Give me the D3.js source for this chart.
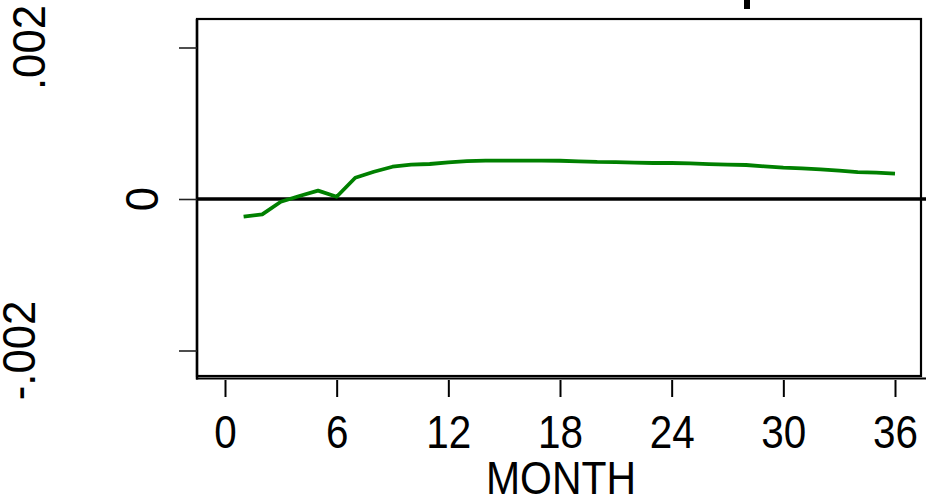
<!DOCTYPE html>
<html>
<head>
<meta charset="utf-8">
<script src="https://cdn.jsdelivr.net/npm/d3@7"></script>
<style>
  body { margin: 0; background: #fff; }
  svg { display: block; }
  text { font-family: "Liberation Sans", Arial, sans-serif; fill: #000; }
</style>
</head>
<body>
<svg id="chart" width="926" height="496"></svg>
<script>
// impulse response, months 1..36
var months = d3.range(1, 37);
var response = [
  -0.000234, -0.000202, -0.000036, 0.000040, 0.000110, 0.000030,
   0.000280,  0.000360,  0.000426, 0.000453, 0.000462, 0.000484,
   0.000500,  0.000506,  0.000506, 0.000506, 0.000506, 0.000505,
   0.000498,  0.000490,  0.000488, 0.000480, 0.000475, 0.000475,
   0.000470,  0.000460,  0.000453, 0.000449, 0.000430, 0.000413,
   0.000405,  0.000390,  0.000374, 0.000356, 0.000347, 0.000334
];
var xTicks = [0, 6, 12, 18, 24, 30, 36];
var yTicks = [0.002, 0, -0.002];
var yTickLabels = ['.002', '0', '-.002'];

var svg = d3.select('#chart');
var W = 926, H = 496;

// plot box  (note: "top" is taken by window.top)
var boxL = 197, boxT = 19, boxR = 921, boxB = 376;

var x = d3.scaleLinear().domain([0, 36]).range([225, 895]);
var y = d3.scaleLinear().domain([-0.002, 0.002]).range([350.5, 47.5]);

// cut-off title stroke at the top
svg.append('rect').attr('x', 744).attr('y', 0).attr('width', 6).attr('height', 9).attr('fill', '#000');

// box
svg.append('rect')
  .attr('x', boxL).attr('y', boxT)
  .attr('width', boxR - boxL).attr('height', boxB - boxT)
  .attr('fill', 'none').attr('stroke', '#000').attr('stroke-width', 2.2);

// y axis line
svg.append('line').attr('x1', boxL).attr('x2', boxL).attr('y1', boxT).attr('y2', 379.5)
  .attr('stroke', '#000').attr('stroke-width', 2.5);

// x axis line
svg.append('line').attr('x1', boxL - 1).attr('x2', W).attr('y1', 378.5).attr('y2', 378.5)
  .attr('stroke', '#000').attr('stroke-width', 2.2);

// x axis ticks + labels
var xAxis = d3.axisBottom(x).tickValues(xTicks).tickSize(17).tickFormat(d3.format('d'));
var gx = svg.append('g').attr('transform', 'translate(0,380)').call(xAxis);
gx.select('.domain').remove();
gx.selectAll('.tick line').attr('stroke', '#000').attr('stroke-width', 2);
gx.selectAll('.tick text')
  .attr('font-size', 47).attr('fill', '#000')
  .attr('font-family', '"Liberation Sans", Arial, sans-serif')
  .attr('dy', null).attr('y', 68)
  .attr('transform', 'scale(0.86,1)');

// y ticks
var yAxis = d3.axisLeft(y).tickValues(yTicks).tickSize(18).tickFormat('');
var gy = svg.append('g').attr('transform', 'translate(' + boxL + ',0)').call(yAxis);
gy.select('.domain').remove();
gy.selectAll('.tick line').attr('stroke', '#222').attr('stroke-width', 1.6);

// y labels, rotated
var labelBase = [45, 158, 35];
yTicks.forEach(function (v, i) {
  svg.append('text')
    .attr('transform', 'translate(' + labelBase[i] + ',' + y(v) + ') rotate(-90) scale(0.93,1)')
    .attr('text-anchor', 'middle')
    .attr('font-size', 47)
    .text(yTickLabels[i]);
});

// zero line
svg.append('line').attr('x1', boxL).attr('x2', W).attr('y1', y(0)).attr('y2', y(0))
  .attr('stroke', '#000').attr('stroke-width', 3.6);

// response line
var line = d3.line().x(function (d, i) { return x(months[i]); }).y(function (d) { return y(d); });
svg.append('path').datum(response)
  .attr('d', line)
  .attr('fill', 'none')
  .attr('stroke', '#008000')
  .attr('stroke-width', 3.8)
  .attr('stroke-linejoin', 'round');

// x title
svg.append('text')
  .attr('transform', 'translate(561,494) scale(0.87,1)')
  .attr('text-anchor', 'middle')
  .attr('font-size', 47).text('MONTH');
</script>
</body>
</html>
